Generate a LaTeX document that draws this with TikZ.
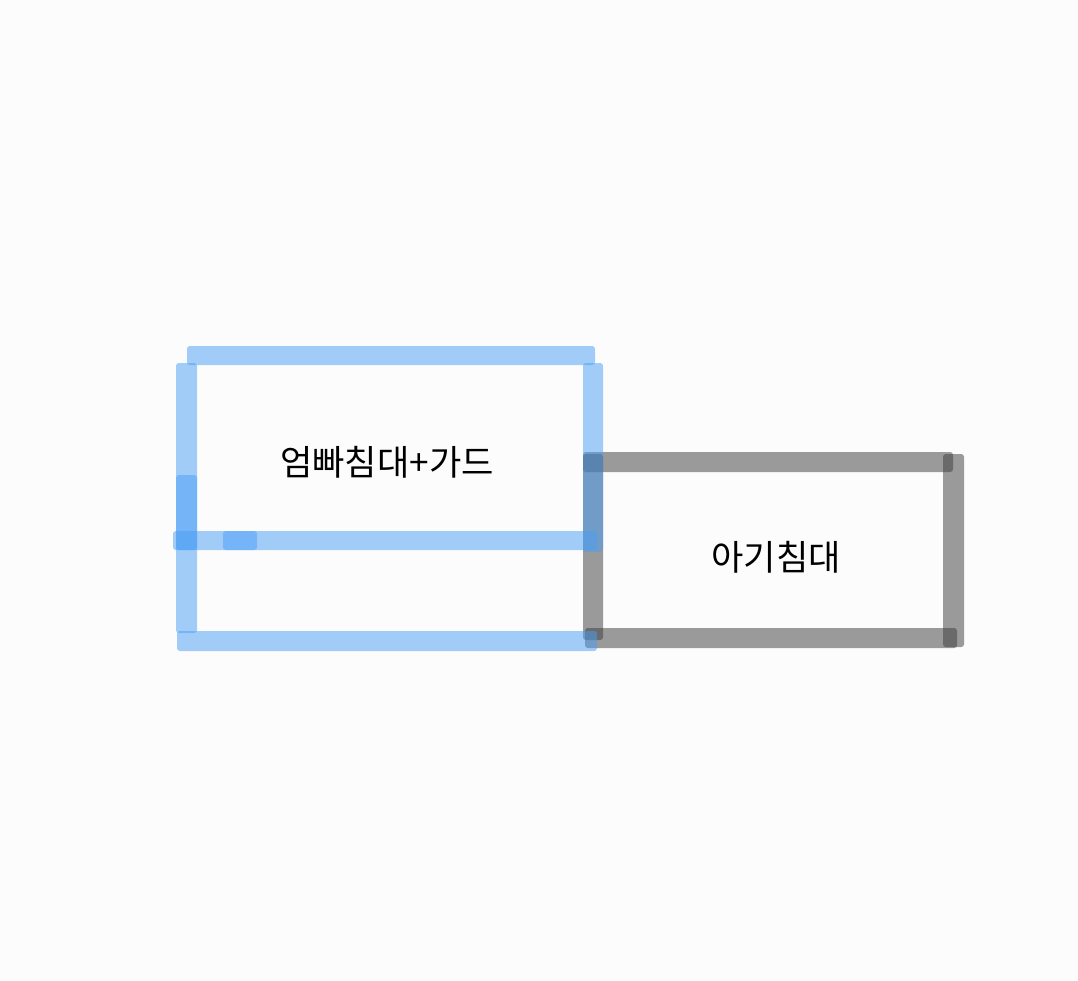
\documentclass[tikz,border=0pt]{standalone}
\usepackage{fontspec}
\newfontfamily\kofont{Noto Sans CJK KR}
\begin{document}
\begin{tikzpicture}[x=0.025cm, y=-0.025cm,
    guard/.style={fill={rgb,255:red,74;green,158;blue,245}, fill opacity=0.5, rounded corners=2pt},
    crib/.style={fill={rgb,255:red,60;green,60;blue,60}, fill opacity=0.51, rounded corners=2pt},
    label/.style={font=\kofont\fontsize{25}{25}\selectfont, text=black}]
\fill[white!99!black] (0,0) rectangle (1078,980);

% baby bed
\fill[crib] (583,452) rectangle (953,472);
\fill[crib] (943,454) rectangle (964,647);
\fill[crib] (585,628) rectangle (957,648);
\fill[crib] (583,454) rectangle (603,640);

% parents' bed with guard
\fill[guard] (187,346) rectangle (595,365);
\fill[guard] (176,363) rectangle (197,633);
\fill[guard] (176,475) rectangle (197,550);
\fill[guard] (583,363) rectangle (603,552);
\fill[guard] (173,531) rectangle (257,550);
\fill[guard] (223,531) rectangle (597,550);
\fill[guard] (177,631) rectangle (597,651);

\node[label] (parents) at (387,462) {엄빠침대+가드};
\node[label] (baby) at (776,557) {아기침대};

\end{tikzpicture}
\end{document}
